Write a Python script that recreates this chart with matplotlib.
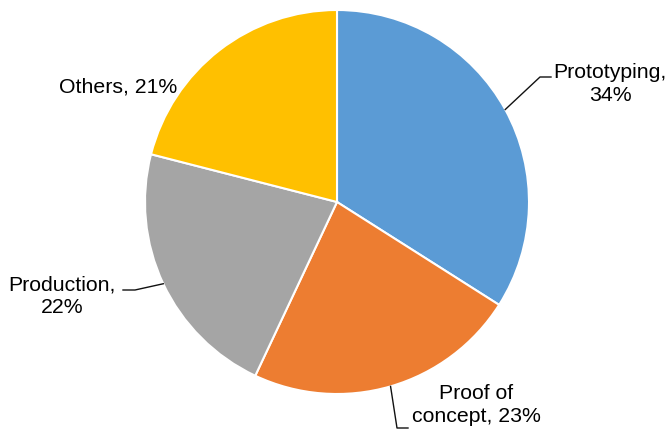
import numpy as np
import matplotlib
matplotlib.use('Agg')
import matplotlib.pyplot as plt

# chart data
categories = ['Prototyping', 'Proof of concept', 'Production', 'Others']
shares = [34, 23, 22, 21]
colors = ['#5B9BD5', '#ED7D31', '#A5A5A5', '#FFC000']

W, H = 671, 434
fig = plt.figure(figsize=(W / 100, H / 100), dpi=100)
ax = fig.add_axes([0, 0, 1, 1])

cx, cy, r = 337, H - 202, 192
wedges, _ = ax.pie(shares, colors=colors, startangle=90, counterclock=False,
                   center=(cx, cy), radius=r, frame=True,
                   wedgeprops=dict(edgecolor='white', linewidth=1.5))
ax.set_xlim(0, W)
ax.set_ylim(0, H)
ax.set_aspect('equal')
ax.axis('off')

font = dict(family='Liberation Sans', fontsize=15.3, color='black')


def edge_point(w):
    ang = np.deg2rad((w.theta1 + w.theta2) / 2)
    return cx + r * np.cos(ang), cy + r * np.sin(ang)


# Prototyping
ex, ey = edge_point(wedges[0])
ax.plot([ex, 540, 551], [ey, H - 77, H - 77], color='#111111', lw=1)
ax.text(610, H - 84, 'Prototyping,\n34%', ha='center', va='center',
        linespacing=1.25, **font)

# Proof of concept
ex, ey = edge_point(wedges[1])
ax.plot([ex, 397, 408], [ey, H - 428, H - 428], color='#111111', lw=1)
ax.text(476, H - 405, 'Proof of\nconcept, 23%', ha='center', va='center',
        linespacing=1.25, **font)

# Production
ex, ey = edge_point(wedges[2])
ax.plot([ex, 135, 123], [ey, H - 290, H - 290], color='#111111', lw=1)
ax.text(62, H - 296, 'Production,\n22%', ha='center', va='center',
        linespacing=1.25, **font)

# Others
ax.text(118, H - 87, 'Others, 21%', ha='center', va='center', **font)

fig.savefig('out.png', dpi=100)
